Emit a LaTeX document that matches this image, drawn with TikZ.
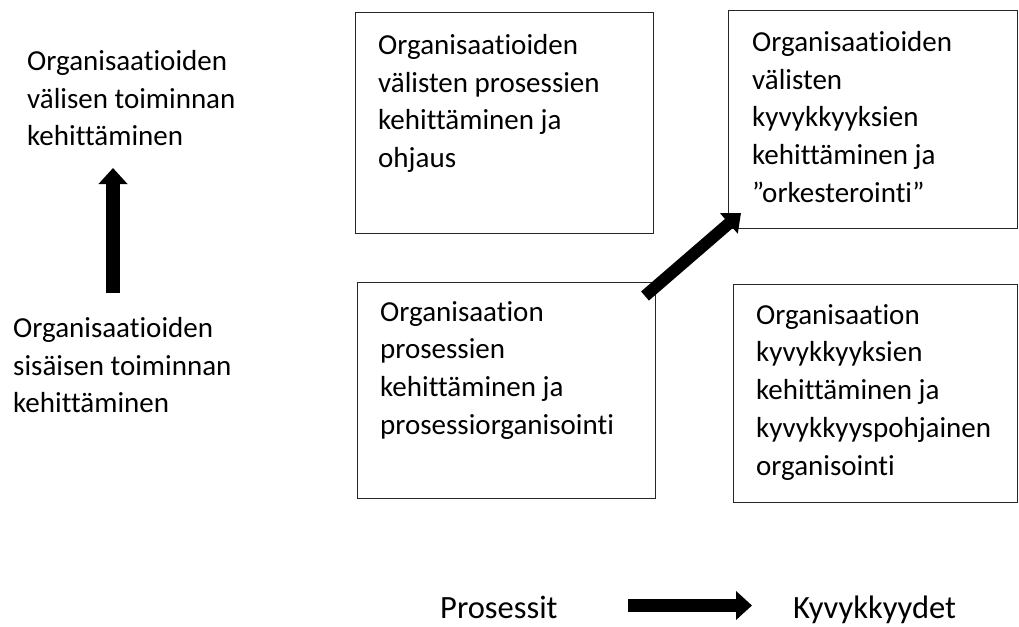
\documentclass[tikz,border=0pt]{standalone}
\usepackage{fontspec}
\setmainfont{Carlito}[Ligatures={NoCommon,NoContextual}]
\usetikzlibrary{arrows.meta}
\begin{document}
\begin{tikzpicture}[x=1pt,y=-1pt,
  box/.style={draw=black!85, line width=1.3pt},
  txt/.style={anchor=north west, align=left, inner sep=0pt,
              font=\fontsize{29}{37.8}\selectfont},
  axis/.style={inner sep=0pt, font=\fontsize{32.5}{38}\selectfont},
  fat/.style={line width=14pt, -{Triangle[width=28pt,length=16pt]}},
  fatdiag/.style={line width=12pt, -{Triangle[width=26pt,length=16pt]}}]
\useasboundingbox (0,0) rectangle (1019,626);

% frames of the four fields
\node[box, minimum width=298pt, minimum height=221pt, anchor=north west] (boxA) at (355,12) {};
\node[box, minimum width=289pt, minimum height=218pt, anchor=north west] (boxB) at (728,10) {};
\node[box, minimum width=298pt, minimum height=216pt, anchor=north west] (boxC) at (357,282) {};
\node[box, minimum width=284pt, minimum height=218pt, anchor=north west] (boxD) at (733,284) {};

% field texts
\node[txt] (textA) at (378,34) {Organisaatioiden\\välisten prosessien\\kehittäminen ja\\ohjaus};
\node[txt] (textB) at (752,31) {Organisaatioiden\\välisten\\kyvykkyyksien\\kehittäminen ja\\”orkesterointi”};
\node[txt] (textC) at (380,301) {Organisaation\\prosessien\\kehittäminen ja\\prosessiorganisointi};
\node[txt] (textD) at (756,304) {Organisaation\\kyvykkyyksien\\kehittäminen ja\\kyvykkyyspohjainen\\organisointi};

% vertical axis labels
\node[txt] (upper) at (27,50) {Organisaatioiden\\välisen toiminnan\\kehittäminen};
\node[txt] (lower) at (13,317) {Organisaatioiden\\sisäisen toiminnan\\kehittäminen};

% horizontal axis labels
\node[axis, anchor=base west] (proc) at (440,618) {Prosessit};
\node[axis, anchor=base west] (capab) at (793,618) {Kyvykkyydet};

% arrow end points
\coordinate (upfoot) at (113,293);
\coordinate (uptip) at (113,168);
\coordinate (diagfoot) at (645,296);
\coordinate (diagtip) at (741,213);
\coordinate (hfoot) at (628,605.5);
\coordinate (htip) at (752,605.5);

\draw[fat] (upfoot) -- (uptip);
\draw[fatdiag] (diagfoot) -- (diagtip);
\draw[fat, line width=13pt] (hfoot) -- (htip);
\end{tikzpicture}
\end{document}
